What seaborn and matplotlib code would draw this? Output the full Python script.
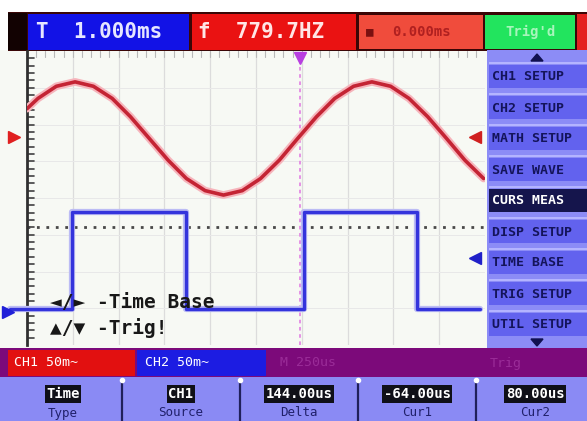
import matplotlib
matplotlib.use("Agg")
import matplotlib.pyplot as plt
import seaborn as sns
import pandas as pd
from matplotlib.patches import Rectangle, Polygon

sns.set_theme(style="white")
plt.rcParams['font.family'] = ['DejaVu Sans Mono', 'DejaVu Sans']

# ---------------- data (in divisions) ----------------
sine_t = [0.00, 0.24, 0.64, 1.05, 1.45, 1.86, 2.26, 2.67, 3.08, 3.48, 3.89, 4.29, 4.70,
          5.10, 5.51, 5.91, 6.32, 6.72, 7.13, 7.53, 7.94, 8.34, 8.75, 9.16, 9.56, 9.97]
sine_v = [2.43, 2.71, 3.04, 3.16, 3.04, 2.71, 2.21, 1.62, 1.03, 0.53, 0.20, 0.08, 0.20,
          0.53, 1.03, 1.62, 2.21, 2.71, 3.04, 3.16, 3.04, 2.71, 2.21, 1.62, 1.03, 0.53]
square_t = [-0.37, 0.98, 3.47, 6.05, 8.52, 9.89]
square_v = [-3.02, -0.38, -3.02, -0.38, -3.02, -3.02]

ch_offsets = [1.66, -3.10]       # left channel markers (CH1, CH2)
trig_levels = [1.66, -1.63]      # right trigger-level markers
trig_pos = 5.96                  # trigger time position (div)
cursor_level = -0.79             # dotted horizontal line

top_labels = ["T  1.000ms", "f  779.7HZ", "0.000ms", "Trig'd"]
menu_items = ["CH1 SETUP", "CH2 SETUP", "MATH SETUP", "SAVE WAVE", "CURS MEAS",
              "DISP SETUP", "TIME BASE", "TRIG SETUP", "UTIL SETUP"]
selected_item = 4
channel_labels = ["CH1 50m~", "CH2 50m~"]
status_labels = ["M 250us", "Trig"]
button_values = ["Time", "CH1", "144.00us", "-64.00us", "80.00us"]
button_names = ["Type", "Source", "Delta", "Cur1", "Cur2"]
hint_lines = ["\u25c4/\u25ba -Time Base", "\u25b2/\u25bc -Trig!"]

# ---------------- figure ----------------
W, H = 587, 421
fig = plt.figure(figsize=(W / 100, H / 100), dpi=100)
fig.patch.set_facecolor("white")

ui = fig.add_axes([0, 0, 1, 1], zorder=0)
ui.set_xlim(0, W)
ui.set_ylim(H, 0)
ui.axis("off")


def rect(x0, y0, x1, y1, color, ax=ui, **kw):
    ax.add_patch(Rectangle((x0, y0), x1 - x0, y1 - y0, facecolor=color,
                           edgecolor=kw.pop("ec", "none"), lw=kw.pop("lw", 0), **kw))


screen_bg = "#f7f9f4"
rect(0, 50, 487, 348, screen_bg)

# top bar
rect(8, 12, 587, 51, "#3a0606")
rect(8, 13, 27, 50, "#120202")
rect(28, 14, 189, 50, "#1212e6")
rect(192, 14, 356, 50, "#ea1212")
rect(359, 15, 483, 49, "#f04c3c")
rect(485, 15, 575, 49, "#22e45e")
rect(577, 14, 587, 50, "#e42020")
ui.text(36, 32, top_labels[0], color="#e6e6ff", fontsize=15, fontweight="bold", va="center")
ui.text(198, 32, top_labels[1], color="#ffe6e6", fontsize=15, fontweight="bold", va="center")
ui.text(366, 32, "\u25a0", color="#7a1010", fontsize=9, va="center")
ui.text(392, 32, top_labels[2], color="#b02020", fontsize=10, fontweight="bold", va="center")
ui.text(530, 32, top_labels[3], color="#a8f5bc", fontsize=10, fontweight="bold",
        va="center", ha="center")

# right menu
rect(487, 50, 587, 348, "#8c8cf6")
ui.add_patch(Polygon([[531, 61], [543, 61], [537, 54]], closed=True, color="#101050"))
ui.add_patch(Polygon([[531, 339], [543, 339], [537, 346]], closed=True, color="#101050"))
for i, name in enumerate(menu_items):
    y0 = 65 + i * 31
    sel = i == selected_item
    rect(489, y0, 587, y0 + 23, "#15154c" if sel else "#6262ee")
    rect(489, y0 - 3, 587, y0 - 1, "#b4b4ff")
    ui.text(492, y0 + 12, name, color="white" if sel else "#14145a", fontsize=9.5,
            fontweight="bold", va="center", clip_on=True)

# channel / status bar
rect(0, 348, 587, 377, "#7c0a7a")
rect(8, 350, 135, 376, "#e21010")
rect(137, 350, 266, 376, "#1c1ce2")
ui.text(14, 363, channel_labels[0], color="white", fontsize=9.5, va="center")
ui.text(145, 363, channel_labels[1], color="white", fontsize=9.5, va="center")
ui.text(280, 363, status_labels[0], color="#9a2c98", fontsize=9.5, va="center")
ui.text(490, 363, status_labels[1], color="#9a2c98", fontsize=9.5, va="center")

# soft-key buttons
rect(0, 377, 587, 421, "#8a8af4")
for xs in [122, 240, 358, 476]:
    ui.plot([xs, xs], [381, 421], color="#20205a", lw=1.6)
    ui.plot([xs], [380], marker="o", ms=3, color="white")
for i, (val, nm) in enumerate(zip(button_values, button_names)):
    cx = 63 + i * 118
    ui.text(cx, 394, val, color="white", fontsize=10, fontweight="bold", ha="center",
            va="center", bbox=dict(boxstyle="square,pad=0.12", fc="#101018", ec="none"))
    ui.text(cx, 413, nm, color="#20206a", fontsize=9, ha="center", va="center")

# ---------------- scope screen ----------------
x0p, x1p, y0p, y1p = 27, 485, 51, 345
sc = fig.add_axes([x0p / W, 1 - y1p / H, (x1p - x0p) / W, (y1p - y0p) / H], zorder=2)
sc.set_facecolor(screen_bg)
sc.set_xlim(0, 10)
sc.set_ylim(-4, 4)
sc.set_xticks([])
sc.set_yticks([])
for s in ["top", "right", "bottom"]:
    sc.spines[s].set_visible(False)
sc.spines["left"].set_color("#303030")
sc.spines["left"].set_linewidth(2)

for gx in range(1, 10):
    sc.axvline(gx, color="#dcdcdc", lw=0.9, zorder=1)
for gy in range(-3, 4):
    sc.axhline(gy, color="#e8e8e8", lw=0.7, zorder=1)
# edge ticks
for k in range(1, 50):
    sc.plot([k * 0.2, k * 0.2], [3.85, 4.0], color="#b8b8b8", lw=0.8, zorder=1)
for k in range(-19, 20):
    sc.plot([0, 0.16], [k * 0.2, k * 0.2], color="#404040", lw=1.2, zorder=1)

sc.axhline(cursor_level, color="#484848", lw=2.0, ls=(0, (1, 2.4)), zorder=2)
sc.axvline(trig_pos, color="#e48ae4", lw=1.3, ls=(0, (2, 2)), zorder=2)
sc.plot([trig_pos], [3.82], marker="v", ms=8, color="#b83ee0", zorder=4)

sine_df = pd.DataFrame({"t": sine_t, "v": sine_v})
square_df = pd.DataFrame({"t": square_t, "v": square_v})

sns.lineplot(data=sine_df, x="t", y="v", ax=sc, color="#f6b4bb", lw=5.5, zorder=3,
             estimator=None, solid_joinstyle="round")
sns.lineplot(data=sine_df, x="t", y="v", ax=sc, color="#c42434", lw=2.6, zorder=4,
             estimator=None, solid_joinstyle="round")
sns.lineplot(data=square_df, x="t", y="v", ax=sc, color="#bcbcf4", lw=4.5, zorder=3,
             estimator=None, drawstyle="steps-post", clip_on=False)
sns.lineplot(data=square_df, x="t", y="v", ax=sc, color="#3434dc", lw=2.4, zorder=4,
             estimator=None, drawstyle="steps-post", clip_on=False)
sc.set_xlabel("")
sc.set_ylabel("")
sc.set_xlim(0, 10)
sc.set_ylim(-4, 4)

# channel markers (left) and trigger-level markers (right)
sc.plot([-0.28], [ch_offsets[0]], marker=">", ms=9, color="#e02020", clip_on=False, zorder=5)
sc.plot([-0.42], [ch_offsets[1]], marker=">", ms=9, color="#2020d8", clip_on=False, zorder=5)
sc.plot([9.78], [trig_levels[0]], marker="<", ms=9, color="#d02020", clip_on=False, zorder=5)
sc.plot([9.78], [trig_levels[1]], marker="<", ms=9, color="#2020c8", clip_on=False, zorder=5)

# hint text
sc.text(50, 303, hint_lines[0], transform=ui.transData, fontsize=14, fontweight="bold",
        color="#181818", va="center", zorder=6)
sc.text(50, 328, hint_lines[1], transform=ui.transData, fontsize=14, fontweight="bold",
        color="#181818", va="center", zorder=6)

fig.savefig("out.png", dpi=100)
